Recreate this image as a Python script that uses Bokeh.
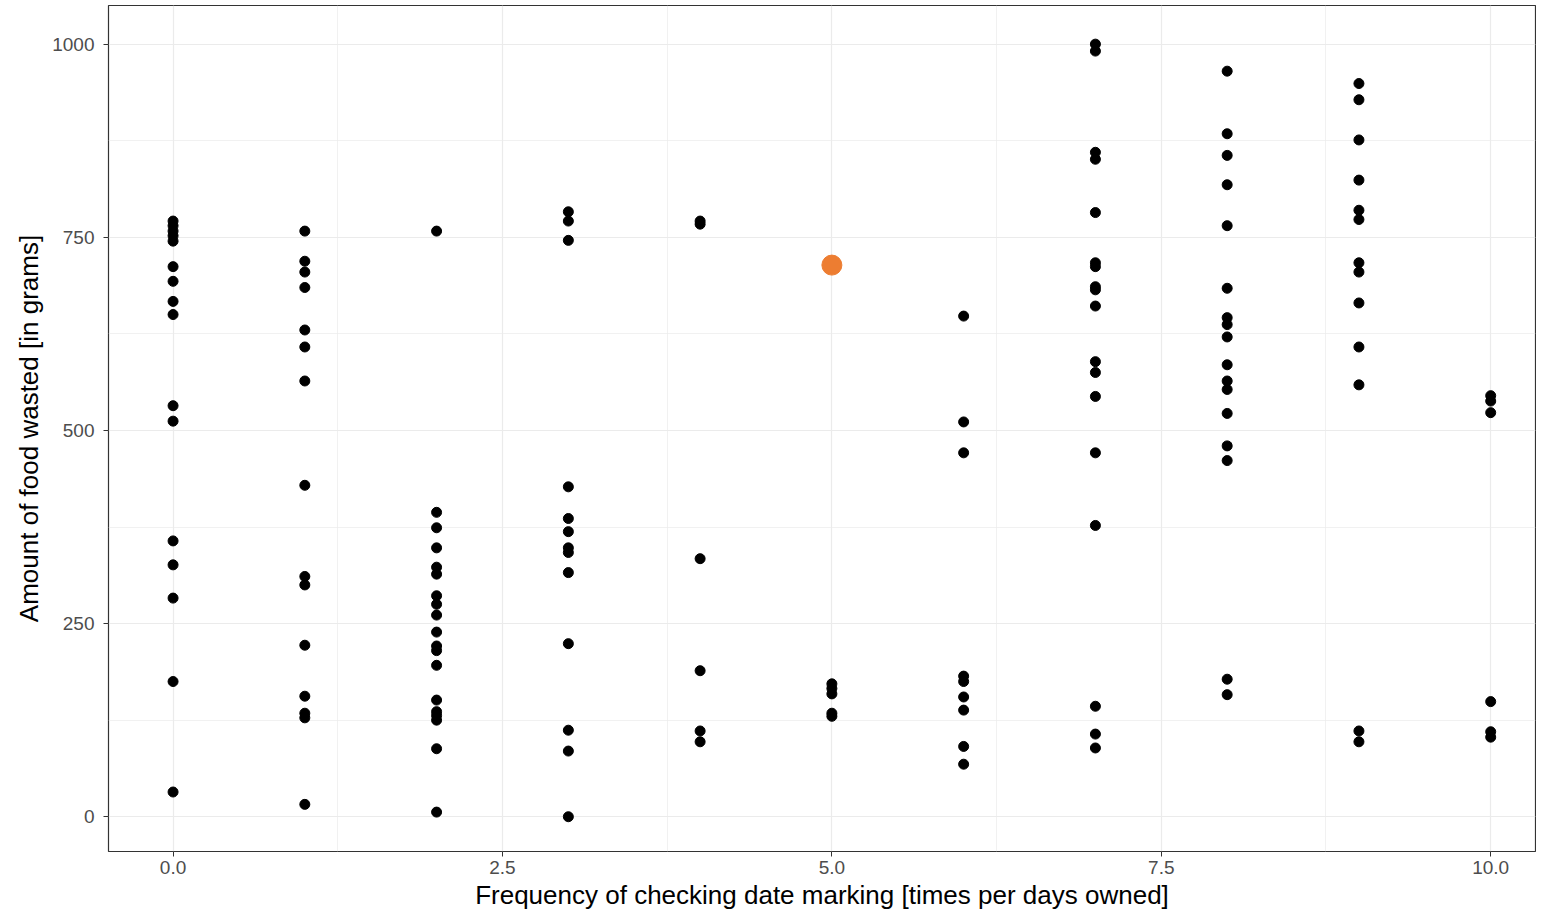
from bokeh.plotting import figure
from bokeh.models import Range1d, FixedTicker, NumeralTickFormatter, ColumnDataSource
from bokeh.embed import file_html
from bokeh.resources import INLINE

# Frequency levels (x) and amounts of food wasted per level (y, grams)
freq_levels = [0, 1, 2, 3, 4, 5, 6, 7, 8, 9, 10]
waste_f0 = [771, 765, 758, 752, 745, 712, 693, 667, 650, 532, 512, 357, 326, 283, 175, 32]
waste_f1 = [758, 719, 705, 685, 630, 608, 564, 429, 311, 300, 222, 156, 134, 128, 16]
waste_f2 = [758, 394, 374, 348, 323, 314, 286, 275, 261, 239, 221, 215, 196, 151, 136, 131, 125, 88, 6]
waste_f3 = [783, 771, 746, 427, 386, 369, 348, 342, 316, 224, 112, 85, 0]
waste_f4 = [771, 767, 334, 189, 111, 97]
waste_f5 = [172, 166, 159, 134, 130]
waste_f6 = [648, 511, 471, 182, 175, 155, 138, 91, 68]
waste_f7 = [1000, 991, 860, 851, 782, 717, 712, 686, 682, 661, 589, 575, 544, 471, 377, 143, 107, 89]
waste_f8 = [965, 884, 856, 818, 765, 684, 646, 637, 621, 585, 564, 553, 522, 480, 461, 178, 158]
waste_f9 = [949, 928, 876, 824, 785, 773, 717, 705, 665, 608, 559, 111, 97]
waste_f10 = [545, 538, 523, 149, 110, 103]

highlight_x = [5.0]
highlight_y = [714]

x_ticks = [0, 2.5, 5, 7.5, 10]
x_minor = [1.25, 3.75, 6.25, 8.75]
y_ticks = [0, 250, 500, 750, 1000]
y_minor = [125, 375, 625, 875]

all_waste = [waste_f0, waste_f1, waste_f2, waste_f3, waste_f4, waste_f5,
             waste_f6, waste_f7, waste_f8, waste_f9, waste_f10]
xs, ys = [], []
for level, vals in zip(freq_levels, all_waste):
    for v in vals:
        xs.append(level)
        ys.append(v)

src = ColumnDataSource(data=dict(x=xs, y=ys))
hsrc = ColumnDataSource(data=dict(x=highlight_x, y=highlight_y))

FONT = "Liberation Sans"

p = figure(width=1536, height=912,
           x_range=Range1d(-0.49, 10.34), y_range=Range1d(-45, 1050),
           output_backend="svg", toolbar_location=None,
           min_border_left=108, min_border_right=1,
           min_border_top=5, min_border_bottom=60)

p.background_fill_color = "white"
p.border_fill_color = "white"
p.outline_line_color = "#333333"
p.outline_line_width = 1.2

p.scatter("x", "y", source=src, size=10, color="black")
p.scatter("x", "y", source=hsrc, size=20, color="#ED7D31")

p.xaxis.ticker = FixedTicker(ticks=x_ticks, minor_ticks=x_minor)
p.yaxis.ticker = FixedTicker(ticks=y_ticks, minor_ticks=y_minor)
p.xaxis.formatter = NumeralTickFormatter(format="0.0")

for ax in (p.xaxis[0], p.yaxis[0]):
    ax.axis_line_color = None
    ax.major_tick_out = 5
    ax.major_tick_in = 0
    ax.major_tick_line_color = "#333333"
    ax.minor_tick_line_color = None
    ax.major_label_text_font = FONT
    ax.major_label_text_font_size = "19px"
    ax.major_label_text_color = "#4D4D4D"
    ax.axis_label_text_font = FONT
    ax.axis_label_text_font_size = "26px"
    ax.axis_label_text_font_style = "normal"
    ax.axis_label_text_color = "black"

p.xaxis.major_label_standoff = 4
p.yaxis.major_label_standoff = 9
p.xaxis.axis_label_standoff = 3
p.yaxis.axis_label_standoff = 5
p.xaxis.axis_label = "Frequency of checking date marking [times per days owned]"
p.yaxis.axis_label = "Amount of food wasted [in grams]"

for g in (p.xgrid[0], p.ygrid[0]):
    g.grid_line_color = "#EBEBEB"
    g.grid_line_width = 1.2
    g.minor_grid_line_color = "#EBEBEB"
    g.minor_grid_line_width = 0.7

open("out.html", "w").write(file_html(p, INLINE))
